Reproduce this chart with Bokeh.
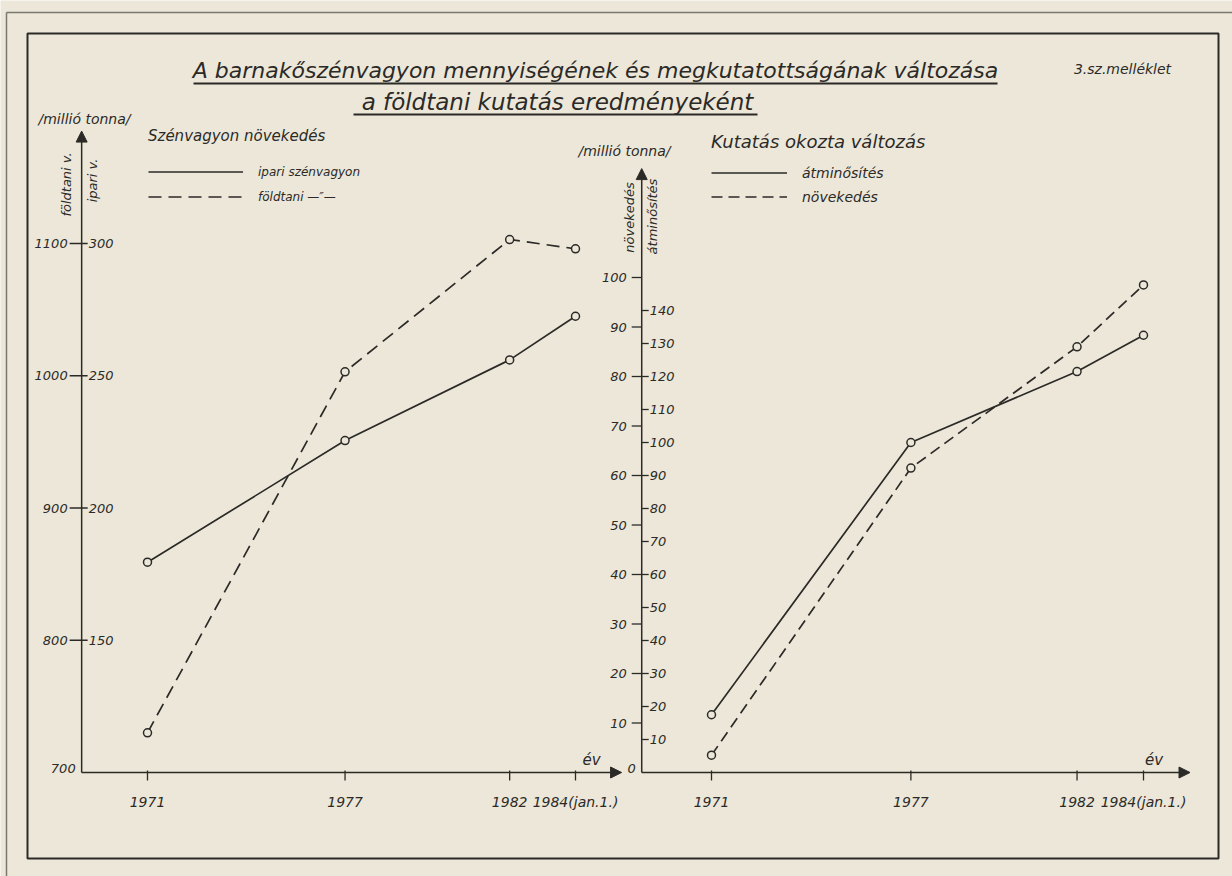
import math
from bokeh.plotting import figure
from bokeh.models import Range1d, Legend, LegendItem, Arrow, NormalHead
from bokeh.core.properties import value
from bokeh.embed import file_html
from bokeh.resources import INLINE

# ---------------- data (millió tonna) ----------------
years = [1971, 1977, 1982, 1984]
year_labels = ["1971", "1977", "1982", "1984(jan.1.)"]

ipari_szenvagyon = [179.5, 225.5, 256.0, 272.5]     # left panel, "ipari v." scale
foldtani_szenvagyon = [730, 1003, 1103, 1096]       # left panel, "földtani v." scale
atminosites = [17.5, 100.0, 121.5, 132.5]            # right panel, "átminősítés" scale
novekedes = [3.5, 61.5, 86.0, 98.5]                  # right panel, "növekedés" scale

foldtani_ticks = [800, 900, 1000, 1100]
ipari_ticks = [150, 200, 250, 300]
novekedes_ticks = [10, 20, 30, 40, 50, 60, 70, 80, 90, 100]
atminosites_ticks = [10, 20, 30, 40, 50, 60, 70, 80, 90, 100, 110, 120, 130, 140]
foldtani_base = 700
novekedes_base = 0

# ---------------- style / geometry ----------------
INK = "#2b2a27"
BG = "#ece7d9"
FONT_NAME = "DejaVu Sans"
FONT = value(FONT_NAME)
W, H = 1232, 876
# whole canvas is the plot frame; the drawn border is a box inside it
CL, CT, CR, CB = 0, 0, W, H
BOX_L, BOX_T, BOX_R, BOX_B = 27, 33, 1218, 858


def lin_range(v1, p1, v2, p2, lo, hi):
    k = (v2 - v1) / (p2 - p1)
    return Range1d(start=v1 + (lo - p1) * k, end=v1 + (hi - p1) * k)


x_left = lin_range(1971, 147, 1984, 575, CL, CR)
y_fold = lin_range(700, 772, 1100, 243, CB, CT)
y_ipari = lin_range(100, 772, 300, 243, CB, CT)
x_right = lin_range(1971, 711, 1984, 1143, CL, CR)
y_nov = lin_range(0, 772, 100, 277, CB, CT)
y_atm = lin_range(0, 772, 150, 277, CB, CT)

px_xl = (x_left.end - x_left.start) / (CR - CL)
px_xr = (x_right.end - x_right.start) / (CR - CL)
px_yf = (y_fold.end - y_fold.start) / (CB - CT)
px_yn = (y_nov.end - y_nov.start) / (CB - CT)

LEFT_AXIS_X = 1969.0
RIGHT_AXIS_X = 1968.9
XAXIS_END = 1985.4
LEFT_AXIS_TOP = 1185
RIGHT_AXIS_TOP = 122

p = figure(width=W, height=H, output_backend="svg", toolbar_location=None, tools="",
           x_axis_type=None, y_axis_type=None, x_range=x_left, y_range=y_fold,
           min_border=0)
p.extra_x_ranges = {"rx": x_right, "img": Range1d(CL, CR)}
p.extra_y_ranges = {"ipari": y_ipari, "nov": y_nov, "atm": y_atm, "img": Range1d(CB, CT)}
p.background_fill_color = BG
p.border_fill_color = BG
p.outline_line_color = None

TXT = dict(text_font=FONT, text_font_style="italic", text_color=INK)
IMG = dict(x_range_name="img", y_range_name="img")

# page borders (outer faint rule, inner frame)
p.segment(x0=[6, 6], y0=[12, 12], x1=[W, 6], y1=[12, H], line_color="#7a776e",
          line_width=1.5, **IMG)
p.quad(left=[BOX_L], right=[BOX_R], top=[BOX_T], bottom=[BOX_B], fill_color=None,
       line_color=INK, line_width=2, **IMG)


def arrow(x0, y0, x1, y1, xr="default", yr="default"):
    p.add_layout(Arrow(end=NormalHead(size=11, fill_color=INK, line_color=INK, line_width=1),
                       x_start=x0, y_start=y0, x_end=x1, y_end=y1,
                       line_color=INK, line_width=1.5, x_range_name=xr, y_range_name=yr))


# ---------------- left panel axes ----------------
arrow(LEFT_AXIS_X, foldtani_base, LEFT_AXIS_X, LEFT_AXIS_TOP)
arrow(LEFT_AXIS_X, foldtani_base, XAXIS_END, foldtani_base)
p.segment(x0=[LEFT_AXIS_X - 12 * px_xl] * len(foldtani_ticks), y0=foldtani_ticks,
          x1=[LEFT_AXIS_X + 6 * px_xl] * len(foldtani_ticks), y1=foldtani_ticks,
          line_color=INK, line_width=1.3)
p.segment(x0=years, y0=[foldtani_base + 2 * px_yf] * 4, x1=years,
          y1=[foldtani_base - 8 * px_yf] * 4, line_color=INK, line_width=1.3)
p.text(x=[LEFT_AXIS_X] * len(foldtani_ticks), y=foldtani_ticks, text=[str(v) for v in foldtani_ticks],
       x_offset=-14, text_align="right", text_baseline="middle", text_font_size="13px", **TXT)
p.text(x=[LEFT_AXIS_X] * len(ipari_ticks), y=ipari_ticks, text=[str(v) for v in ipari_ticks],
       x_offset=7, text_align="left", text_baseline="middle", text_font_size="13px",
       y_range_name="ipari", **TXT)
p.text(x=[LEFT_AXIS_X], y=[foldtani_base], text=[str(foldtani_base)], x_offset=-6, y_offset=-4,
       text_align="right", text_baseline="middle", text_font_size="13px", **TXT)
p.text(x=years, y=[foldtani_base] * 4, text=year_labels, y_offset=29,
       text_align="center", text_baseline="middle", text_font_size="14px", **TXT)
p.text(x=[XAXIS_END], y=[foldtani_base], text=["év"], x_offset=-30, y_offset=-13,
       text_align="center", text_baseline="middle", text_font_size="15px", **TXT)

# ---------------- right panel axes ----------------
arrow(RIGHT_AXIS_X, novekedes_base, RIGHT_AXIS_X, RIGHT_AXIS_TOP, "rx", "nov")
arrow(RIGHT_AXIS_X, novekedes_base, XAXIS_END, novekedes_base, "rx", "nov")
p.segment(x0=[RIGHT_AXIS_X - 10 * px_xr] * len(novekedes_ticks), y0=novekedes_ticks,
          x1=[RIGHT_AXIS_X] * len(novekedes_ticks), y1=novekedes_ticks,
          line_color=INK, line_width=1.3, x_range_name="rx", y_range_name="nov")
p.segment(x0=[RIGHT_AXIS_X] * len(atminosites_ticks), y0=atminosites_ticks,
          x1=[RIGHT_AXIS_X + 7 * px_xr] * len(atminosites_ticks), y1=atminosites_ticks,
          line_color=INK, line_width=1.3, x_range_name="rx", y_range_name="atm")
p.segment(x0=years, y0=[novekedes_base + 2 * px_yn] * 4, x1=years,
          y1=[novekedes_base - 8 * px_yn] * 4, line_color=INK, line_width=1.3,
          x_range_name="rx", y_range_name="nov")
p.text(x=[RIGHT_AXIS_X] * len(novekedes_ticks), y=novekedes_ticks, text=[str(v) for v in novekedes_ticks],
       x_offset=-15, text_align="right", text_baseline="middle", text_font_size="13px",
       x_range_name="rx", y_range_name="nov", **TXT)
p.text(x=[RIGHT_AXIS_X] * len(atminosites_ticks), y=atminosites_ticks,
       text=[str(v) for v in atminosites_ticks], x_offset=8, text_align="left",
       text_baseline="middle", text_font_size="13px", x_range_name="rx", y_range_name="atm", **TXT)
p.text(x=[RIGHT_AXIS_X], y=[novekedes_base], text=[str(novekedes_base)], x_offset=-6, y_offset=-4,
       text_align="right", text_baseline="middle", text_font_size="13px",
       x_range_name="rx", y_range_name="nov", **TXT)
p.text(x=years, y=[novekedes_base] * 4, text=year_labels, y_offset=29,
       text_align="center", text_baseline="middle", text_font_size="14px",
       x_range_name="rx", y_range_name="nov", **TXT)
p.text(x=[XAXIS_END], y=[novekedes_base], text=["év"], x_offset=-36, y_offset=-13,
       text_align="center", text_baseline="middle", text_font_size="15px",
       x_range_name="rx", y_range_name="nov", **TXT)

# ---------------- data lines ----------------
r_ipari = p.line(years, ipari_szenvagyon, y_range_name="ipari", line_color=INK, line_width=1.7)
r_fold = p.line(years, foldtani_szenvagyon, line_color=INK, line_width=1.7, line_dash="13 7")
r_atm = p.line(years, atminosites, x_range_name="rx", y_range_name="atm",
               line_color=INK, line_width=1.7)
r_nov = p.line(years, novekedes, x_range_name="rx", y_range_name="nov",
               line_color=INK, line_width=1.7, line_dash="11 6")
MK = dict(marker="circle", size=8, fill_color=BG, line_color=INK, line_width=1.5)
p.scatter(years, ipari_szenvagyon, y_range_name="ipari", **MK)
p.scatter(years, foldtani_szenvagyon, **MK)
p.scatter(years, atminosites, x_range_name="rx", y_range_name="atm", **MK)
p.scatter(years, novekedes, x_range_name="rx", y_range_name="nov", **MK)

# ---------------- legends ----------------
LEG = dict(orientation="vertical", padding=0, margin=0, border_line_alpha=0,
           background_fill_alpha=0, label_text_font=FONT_NAME, label_text_font_style="italic",
           label_text_color=INK, title_text_font=FONT_NAME,
           title_text_font_style="italic", title_text_color=INK, glyph_height=19)
leg1 = Legend(items=[LegendItem(label="ipari szénvagyon", renderers=[r_ipari]),
                     LegendItem(label="földtani —″—", renderers=[r_fold])],
              title="Szénvagyon növekedés", title_text_font_size="15px", title_standoff=17,
              label_text_font_size="12px",
              spacing=6, glyph_width=95, label_standoff=15, location=(148 - CL, CB - 206), **LEG)
leg2 = Legend(items=[LegendItem(label="átminősítés", renderers=[r_atm]),
                     LegendItem(label="növekedés", renderers=[r_nov])],
              title="Kutatás okozta változás", title_text_font_size="18px", title_standoff=11,
              label_text_font_size="14px",
              spacing=5, glyph_width=76, label_standoff=15, location=(711 - CL, CB - 206), **LEG)
p.add_layout(leg1)
p.add_layout(leg2)

# ---------------- titles and captions (page-pixel placement) ----------------
p.text(x=[595], y=[70],
       text=["A barnakőszénvagyon mennyiségének és megkutatottságának változása"],
       text_align="center", text_baseline="middle", text_font_size="22px", **TXT, **IMG)
p.text(x=[557], y=[101], text=["a földtani kutatás eredményeként"],
       text_align="center", text_baseline="middle", text_font_size="23px", **TXT, **IMG)
p.segment(x0=[193, 353], y0=[83, 114], x1=[997, 757], y1=[83, 114],
          line_color=INK, line_width=2, **IMG)
p.text(x=[1122], y=[68], text=["3.sz.melléklet"], text_align="center",
       text_baseline="middle", text_font_size="14px", **TXT, **IMG)
p.text(x=[38, 578], y=[118, 150], text=["/millió tonna/", "/millió tonna/"], text_align="left",
       text_baseline="middle", text_font_size="14px", **TXT, **IMG)
p.text(x=[66, 92, 629, 652], y=[184, 180, 217, 216],
       text=["földtani v.", "ipari v.", "növekedés", "átminősítés"], angle=math.pi / 2,
       text_align="center", text_baseline="middle", text_font_size="13px", **TXT, **IMG)

open("out.html", "w").write(file_html(p, INLINE))
